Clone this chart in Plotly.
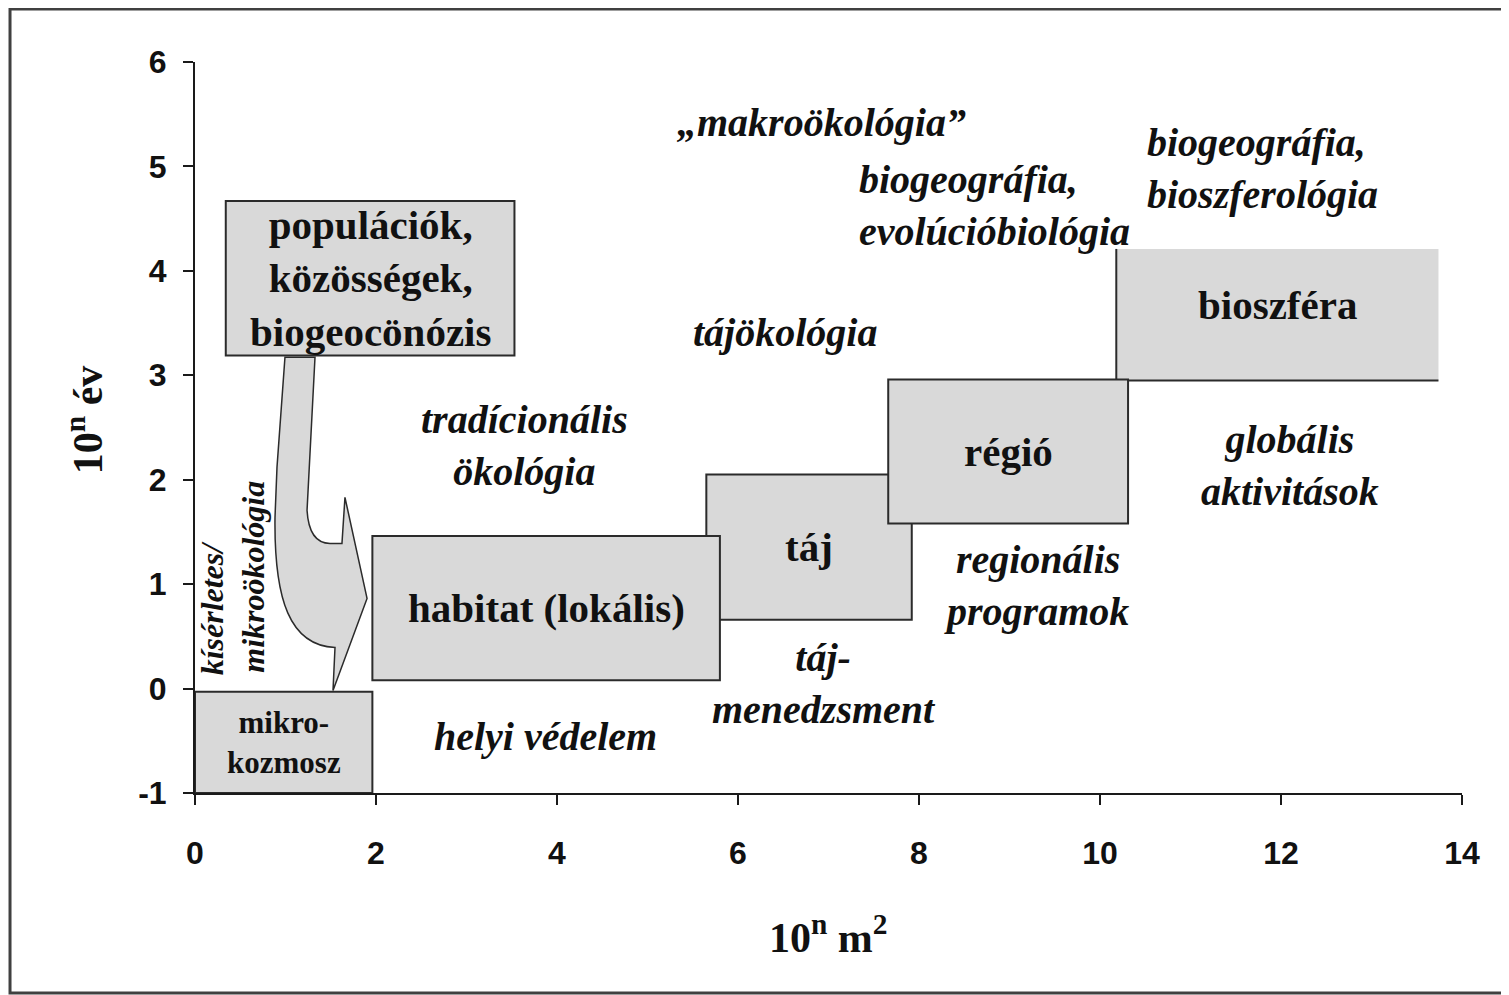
import plotly.graph_objects as go

# ---- data: spatial (10^n m^2) and temporal (10^n years) extent of each level ----
box_labels = ["bioszféra", "táj", "régió", "habitat (lokális)",
              "populációk,<br>közösségek,<br>biogeocönózis", "mikro-<br>kozmosz"]
box_x0 = [10.18, 5.65, 7.66, 1.96, 0.34, 0.00]
box_x1 = [13.74, 7.92, 10.31, 5.80, 3.53, 1.96]
box_y0 = [2.95, 0.66, 1.58, 0.08, 3.19, -1.00]
box_y1 = [4.21, 2.05, 2.96, 1.46, 4.67, -0.03]

# disciplines / activities (free text labels)
field_labels = ["„makroökológia”", "biogeográfia,<br>evolúcióbiológia",
                "biogeográfia,<br>bioszferológia", "tájökológia",
                "tradícionális<br>ökológia", "globális<br>aktivitások",
                "regionális<br>programok", "táj-<br>menedzsment", "helyi védelem"]
side_labels = ["kísérletes/", "mikroökológia"]

x_ticks = [0, 2, 4, 6, 8, 10, 12, 14]
y_ticks = [-1, 0, 1, 2, 3, 4, 5, 6]
y_tick_text = ["-1", "0", "1", "2", "3", "4", "5", "6"]

# arrow outline (data space) from the population box to the habitat box
arrow_right_edge = [(1.326, 3.173), (1.238, 1.706)]
arrow_head = [(1.492, 1.390), (1.624, 1.390), (1.657, 1.831), (1.901, 0.863),
              (1.525, -0.019), (1.547, 0.393)]
arrow_left_edge = [(0.884, 1.639), (0.906, 2.118), (0.994, 3.173)]

# ---- styles / layout ----
FILL = "#d9d9d9"
EDGE = "#2b2b2b"
SERIF = "Liberation Serif, Times New Roman, serif"
SANS = "Liberation Sans, Arial, sans-serif"

fig = go.Figure()
fig.add_trace(go.Scatter(x=[None], y=[None], showlegend=False, hoverinfo="skip"))

shapes = []
# boxes
for i, lab in enumerate(box_labels):
    if lab == "bioszféra":
        shapes.append(dict(type="rect", xref="x", yref="y", x0=box_x0[i], x1=box_x1[i],
                           y0=box_y0[i], y1=box_y1[i], fillcolor=FILL,
                           line=dict(width=0), layer="above"))
        shapes.append(dict(type="line", xref="x", yref="y", x0=box_x0[i], x1=box_x0[i],
                           y0=box_y0[i], y1=box_y1[i], line=dict(color=EDGE, width=2), layer="above"))
        shapes.append(dict(type="line", xref="x", yref="y", x0=box_x0[i], x1=box_x1[i],
                           y0=box_y0[i], y1=box_y0[i], line=dict(color=EDGE, width=2), layer="above"))
    else:
        shapes.append(dict(type="rect", xref="x", yref="y", x0=box_x0[i], x1=box_x1[i],
                           y0=box_y0[i], y1=box_y1[i], fillcolor=FILL,
                           line=dict(color=EDGE, width=2), layer="above"))

# arrow path
def p(pt):
    return f"{pt[0]},{pt[1]}"

path = "M " + p(arrow_right_edge[0]) + " L " + p(arrow_right_edge[1])
path += " Q 1.260,1.390 " + p(arrow_head[0])
for pt in arrow_head[1:]:
    path += " L " + p(pt)
path += " C 1.050,0.412 0.873,0.843 " + p(arrow_left_edge[0])
for pt in arrow_left_edge[1:]:
    path += " L " + p(pt)
path += " Z"
shapes.append(dict(type="path", xref="x", yref="y", path=path, fillcolor=FILL,
                   line=dict(color=EDGE, width=1.5), layer="above"))

# outer frame
shapes.append(dict(type="rect", xref="paper", yref="paper", x0=-0.146, x1=1.037,
                   y0=-0.2736, y1=1.0725, line=dict(color="#404040", width=3),
                   fillcolor="rgba(0,0,0,0)", layer="above"))

annotations = []
box_font = dict(family=SERIF, size=41, color="#111111", weight="bold")
for i, lab in enumerate(box_labels):
    f = dict(box_font)
    yshift = 0
    if lab.startswith("mikro"):
        f["size"] = 31
    if lab == "bioszféra":
        yshift = 10
    annotations.append(dict(x=(box_x0[i] + box_x1[i]) / 2, y=(box_y0[i] + box_y1[i]) / 2,
                            xref="x", yref="y", text=lab, showarrow=False, font=f,
                            xanchor="center", yanchor="middle", yshift=yshift))

it_font = dict(family=SERIF, size=40, color="#111111", weight="bold", style="italic")
field_pos = [
    (5.30, 5.42, "left"),
    (7.31, 4.63, "left"),
    (10.50, 4.98, "left"),
    (6.52, 3.41, "center"),
    (3.646, 2.33, "center"),
    (12.10, 2.14, "center"),
    (9.30, 0.99, "center"),
    (6.95, 0.05, "center"),
    (3.87, -0.46, "center"),
]
for lab, (x, y, anc) in zip(field_labels, field_pos):
    annotations.append(dict(x=x, y=y, xref="x", yref="y", text=lab, showarrow=False,
                            font=it_font, xanchor=anc, yanchor="middle", align=anc))

side_pos = [(0.19, 0.77), (0.64, 1.07)]
for lab, (x, y) in zip(side_labels, side_pos):
    annotations.append(dict(x=x, y=y, xref="x", yref="y", text=lab, showarrow=False,
                            font=dict(family=SERIF, size=32, color="#111111",
                                      weight="bold", style="italic"),
                            textangle=-90, xanchor="center", yanchor="middle"))

# axis titles
annotations.append(dict(x=0.5, y=-0.194, xref="paper", yref="paper",
                        text="10<sup>n</sup> m<sup>2</sup>", showarrow=False,
                        font=dict(family=SERIF, size=42, color="#111111", weight="bold"),
                        xanchor="center", yanchor="middle"))
annotations.append(dict(x=-0.0868, y=0.51, xref="paper", yref="paper",
                        text="10<sup>n</sup> év", showarrow=False, textangle=-90,
                        font=dict(family=SERIF, size=42, color="#111111", weight="bold"),
                        xanchor="center", yanchor="middle"))

axis_common = dict(showgrid=False, zeroline=False, showline=True, linecolor="#1a1a1a",
                   linewidth=2, ticks="outside", ticklen=10, tickwidth=2,
                   tickcolor="#1a1a1a",
                   tickfont=dict(family=SANS, size=32, color="#111111", weight="bold"))

fig.update_layout(
    width=1509, height=995,
    margin=dict(l=187, r=55, t=54, b=210),
    plot_bgcolor="white", paper_bgcolor="white",
    xaxis=dict(range=[0, 14], tickvals=x_ticks, ticklabelstandoff=21, **axis_common),
    yaxis=dict(range=[-1, 6], tickvals=y_ticks, ticktext=y_tick_text,
               ticklabelstandoff=10, **axis_common),
    shapes=shapes, annotations=annotations, showlegend=False,
)

fig.write_html("out.html")
